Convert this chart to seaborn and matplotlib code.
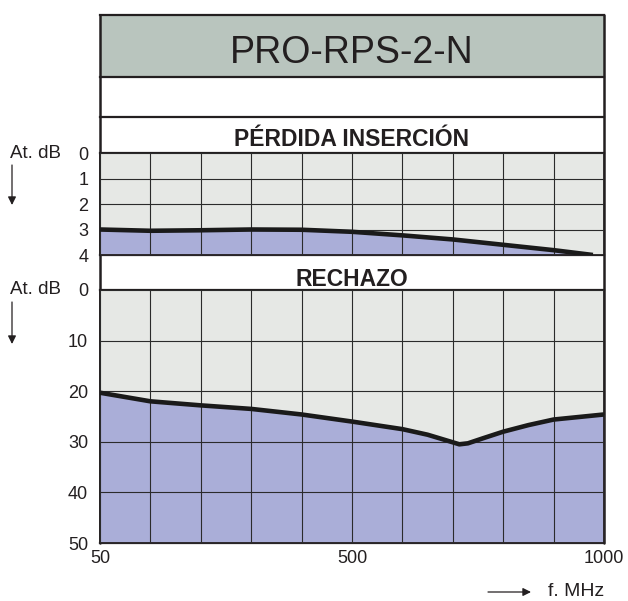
import os
import matplotlib
matplotlib.use("Agg")
import matplotlib.pyplot as plt
from matplotlib.patches import Rectangle
from matplotlib import font_manager as fm
import seaborn as sns

# ---------------- data ----------------
# positions along the (non-linear) frequency grid, 10 equal divisions 50..1000 MHz
ins_pos = [0, 1, 2, 3, 4, 5, 6, 7, 8, 9, 9.78]
ins_loss = [3.0, 3.05, 3.03, 3.0, 3.01, 3.09, 3.23, 3.39, 3.6, 3.81, 4.0]

rej_pos = [0, 1, 2, 3, 4, 5, 6, 6.5, 7, 7.13, 7.3, 7.6, 8, 8.5, 9, 10]
rej_att = [20.3, 22.0, 22.8, 23.5, 24.6, 26.0, 27.5, 28.6, 30.1, 30.5, 30.3, 29.3,
           28.0, 26.7, 25.6, 24.6]

x_tick_pos = [0, 5, 10]
x_tick_labels = ["50", "500", "1000"]
ins_ticks = [0, 1, 2, 3, 4]
rej_ticks = [0, 10, 20, 30, 40, 50]

title = "PRO-RPS-2-N"
top_label = "PÉRDIDA INSERCIÓN"
bottom_label = "RECHAZO"

# ---------------- style ----------------
sns.set_theme(style="white")
plt.rcParams["font.family"] = ["Liberation Sans", "DejaVu Sans"]


def find_face(keys):
    for key in keys:
        for f in fm.fontManager.ttflist:
            base = os.path.basename(f.fname)
            if base.replace("-", "").replace("_", "").lower().startswith(key):
                return f.fname
    return None


semi = find_face(["notosanssemicondensedbold.", "notosanssemicondensedbold"])
condf = find_face(["notosanscondensedbold.", "notosanscondensedbold"])
if semi:
    band_fp = fm.FontProperties(fname=semi, size=19)
elif condf:
    band_fp = fm.FontProperties(fname=condf, size=21)
else:
    band_fp = fm.FontProperties(family=["Liberation Sans", "DejaVu Sans"],
                                weight="bold", size=16.5)

W, H = 628, 601
DPI = 100
fig = plt.figure(figsize=(W / DPI, H / DPI), dpi=DPI)
fig.patch.set_facecolor("white")

BG = "#e6e8e5"
FILL = "#aaaed8"
HEAD = "#b9c5be"
DARK = "#231f20"
GRID = "#2b2b2b"
TXT = "#231f20"

L, R = 100, 604


def px_axes(x0, y0, x1, y1):
    return fig.add_axes([x0 / W, 1 - y1 / H, (x1 - x0) / W, (y1 - y0) / H])


# overlay in pixel coordinates for bands / labels
ov = fig.add_axes([0, 0, 1, 1], zorder=0)
ov.set_xlim(0, W)
ov.set_ylim(H, 0)
ov.axis("off")
ov.add_patch(Rectangle((L, 15), R - L, 62, facecolor=HEAD, edgecolor="none"))
for y in (15, 77, 117, 153, 255, 290, 543):
    ov.plot([L, R], [y, y], color=DARK, lw=1.6, solid_capstyle="projecting")
ov.plot([L, L], [15, 543], color=DARK, lw=1.8)
ov.plot([R, R], [15, 543], color=DARK, lw=1.8)

ov.text((L + R) / 2, 63, title, ha="center", va="baseline", fontsize=27, color=TXT)
ov.text((L + R) / 2, 145.5, top_label, ha="center", va="baseline",
        fontproperties=band_fp, color=TXT)
ov.text((L + R) / 2, 286.5, bottom_label, ha="center", va="baseline",
        fontproperties=band_fp, color=TXT)

for yl, (a0, a1) in ((153, (165, 205)), (290, (302, 344))):
    ov.text(10, yl, "At. dB", ha="left", va="center", fontsize=13.5, color=TXT)
    ov.annotate("", xy=(12, a1), xytext=(12, a0),
                arrowprops=dict(arrowstyle="-|>", lw=0.9, color=TXT,
                                mutation_scale=12, shrinkA=0, shrinkB=0))
ov.annotate("", xy=(531, 592), xytext=(488, 592),
            arrowprops=dict(arrowstyle="-|>", lw=0.9, color=TXT,
                            mutation_scale=12, shrinkA=0, shrinkB=0))
ov.text(548, 592, "f. MHz", ha="left", va="center", fontsize=14, color=TXT)


def style_axes(ax, yticks, ymax):
    ax.set_facecolor(BG)
    ax.set_xlim(0, 10)
    ax.set_ylim(ymax, 0)
    ax.set_xticks(range(11))
    ax.set_yticks(yticks)
    ax.grid(True, color=GRID, lw=0.8)
    ax.set_axisbelow(False)
    for s in ax.spines.values():
        s.set_color(DARK)
        s.set_linewidth(1.3)
    ax.tick_params(length=0, labelsize=13, colors=TXT, pad=8.5)
    ax.set_xlabel("")
    ax.set_ylabel("")


# insertion loss panel
ax1 = px_axes(L, 153, R, 255)
ax1.fill_between(ins_pos, ins_loss, 4, color=FILL, lw=0, zorder=1)
sns.lineplot(x=ins_pos, y=ins_loss, ax=ax1, color="#1a1a1a", lw=3.3, zorder=5,
             solid_capstyle="butt", solid_joinstyle="round")
style_axes(ax1, ins_ticks, 4)
ax1.set_xticklabels([])
ax1.set_yticklabels([str(t) for t in ins_ticks])

# rejection panel
ax2 = px_axes(L, 290, R, 543)
ax2.fill_between(rej_pos, rej_att, 50, color=FILL, lw=0, zorder=1)
sns.lineplot(x=rej_pos, y=rej_att, ax=ax2, color="#1a1a1a", lw=3.3, zorder=5,
             solid_capstyle="butt", solid_joinstyle="round")
style_axes(ax2, rej_ticks, 50)
ax2.set_yticklabels([str(t) for t in rej_ticks])
ax2.set_xticks(range(11))
ax2.set_xticklabels([x_tick_labels[x_tick_pos.index(i)] if i in x_tick_pos else ""
                     for i in range(11)])
ax2.tick_params(axis="x", pad=5)

for ax in (ax1, ax2):
    for ln in ax.get_xgridlines() + ax.get_ygridlines():
        ln.set_zorder(3)

fig.savefig("out.png", dpi=DPI, facecolor="white")
